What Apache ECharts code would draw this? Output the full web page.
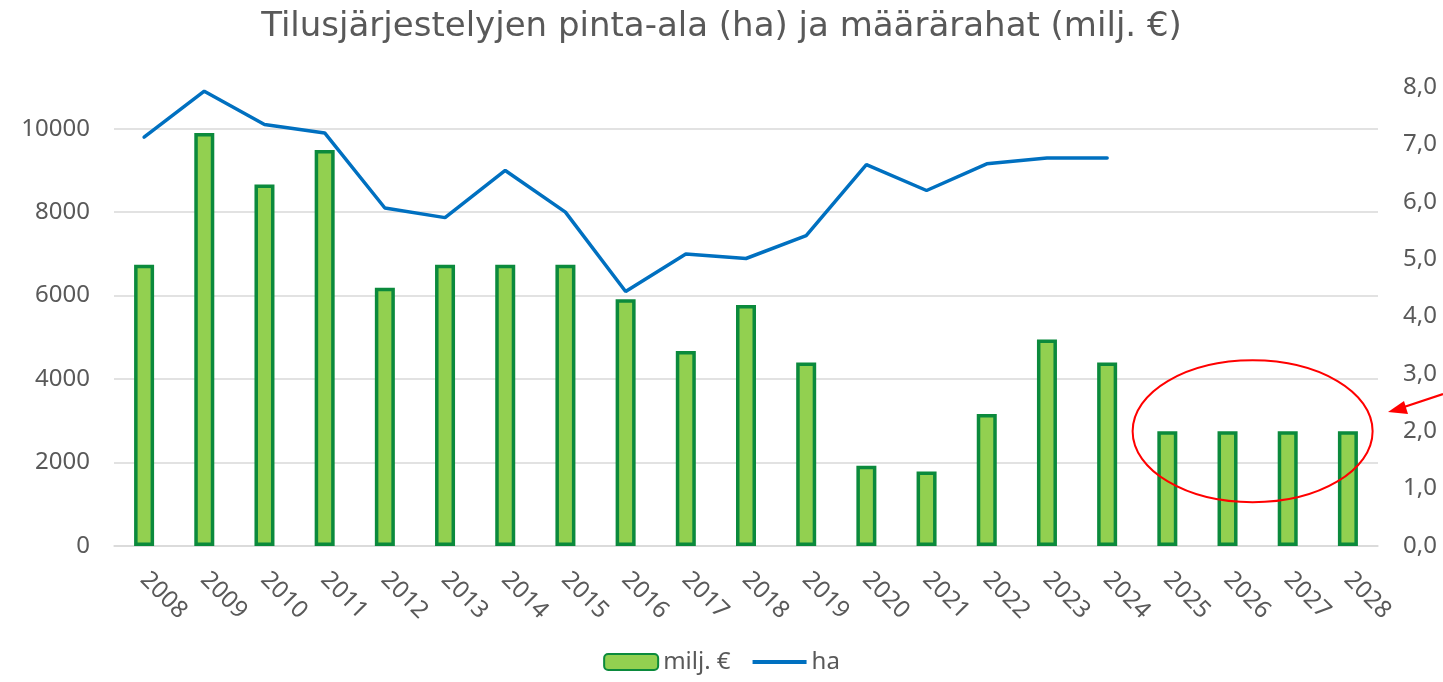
<!DOCTYPE html>
<html><head><meta charset="utf-8">
<script src="https://cdn.jsdelivr.net/npm/echarts@6/dist/echarts.min.js"></script>
<style>html,body{margin:0;padding:0;background:#fff}#c{width:1443px;height:682px}</style>
</head><body><div id="c"></div>
<script>
const years = ['2008','2009','2010','2011','2012','2013','2014','2015','2016','2017','2018','2019','2020','2021','2022','2023','2024','2025','2026','2027','2028'];
const miljEur = [4.9,7.2,6.3,6.9,4.5,4.9,4.9,4.9,4.3,3.4,4.2,3.2,1.4,1.3,2.3,3.6,3.2,2.0,2.0,2.0,2.0];
const ha = [9800,10900,10100,9900,8100,7870,9000,8000,6100,7000,6890,7440,9140,8520,9160,9300,9300,null,null,null,null];
const leftTicks = [0,2000,4000,6000,8000,10000];

const font = 'Noto Sans';
const grey = '#595959';
const chart = echarts.init(document.getElementById('c'));
chart.setOption({
  animation:false,
  textStyle:{fontFamily:font},
  title:{text:'Tilusjärjestelyjen pinta-ala (ha) ja määrärahat (milj. €)',left:'center',top:5,
    textStyle:{fontFamily:'DejaVu Sans',fontSize:34,fontWeight:'normal',color:grey}},
  legend:{data:['milj. €',{name:'ha',icon:'path://M0,0 L54,0 L54,4 L0,4 Z'}],bottom:3,left:'center',
    itemWidth:54,itemHeight:16,itemGap:22,
    textStyle:{fontSize:24,color:grey,fontFamily:font}},
  grid:{left:114,right:65,top:87,bottom:136,containLabel:false},
  xAxis:{type:'category',data:years,
    axisLine:{lineStyle:{color:'#d9d9d9',width:1.5}},axisTick:{show:false},
    axisLabel:{rotate:-45,fontSize:24,color:grey,margin:30,fontFamily:font}},
  yAxis:[
    {type:'value',min:0,max:11000,interval:2000,position:'left',
      axisLine:{show:false},axisTick:{show:false},
      axisLabel:{fontSize:24,color:grey,margin:24,showMaxLabel:false,fontFamily:font,
        formatter:v=>leftTicks.includes(v)?String(v):''},
      splitLine:{show:true,showMaxLine:false,lineStyle:{color:'#d9d9d9',width:1.5}}},
    {type:'value',min:0,max:8,interval:1,position:'right',
      axisLine:{show:false},axisTick:{show:false},splitLine:{show:false},
      axisLabel:{fontSize:24,color:grey,margin:25,fontFamily:font,
        formatter:v=>v.toFixed(1).replace('.',',')}}
  ],
  series:[
    {name:'milj. €',type:'bar',yAxisIndex:1,data:miljEur,barWidth:20,
      itemStyle:{color:'#92d050',borderColor:'#0b8a3c',borderWidth:3.5}},
    {name:'ha',type:'line',yAxisIndex:0,data:ha,symbol:'none',z:5,
      lineStyle:{color:'#0070c0',width:3.5,cap:'round'},itemStyle:{color:'#0070c0'}}
  ]
});

// annotation: red ellipse around the projected years, and an arrow pointing at it
const pA = chart.convertToPixel({xAxisIndex:0,yAxisIndex:1},[years[18],2.0]);
const pB = chart.convertToPixel({xAxisIndex:0,yAxisIndex:1},[years[19],2.0]);
const cx=(pA[0]+pB[0])/2 - 5, cy=pA[1];
chart.setOption({graphic:[
  {type:'ellipse',shape:{cx:cx,cy:cy,rx:120,ry:71},style:{fill:'none',stroke:'#ff0000',lineWidth:2},z:10},
  {type:'line',shape:{x1:1443,y1:394,x2:1398,y2:409},style:{stroke:'#ff0000',lineWidth:2.2},z:10},
  {type:'polygon',shape:{points:[[1388,412],[1404,401],[1408,414]]},style:{fill:'#ff0000'},z:10}
]});
</script></body></html>
